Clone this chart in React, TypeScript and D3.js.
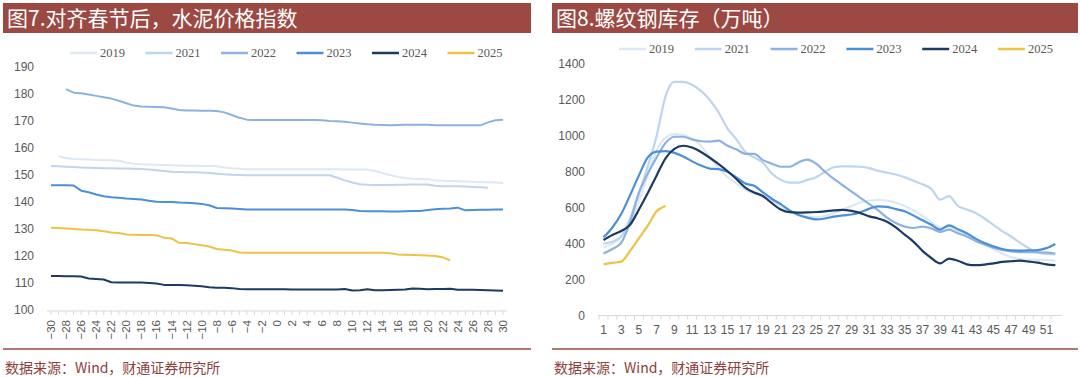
import React from 'react';
import * as d3 from 'd3';

// ---------- Figure 7: cement price index, aligned to Spring Festival ----------
const cementX = [-30,-29,-28,-27,-26,-25,-24,-23,-22,-21,-20,-19,-18,-17,-16,-15,-14,-13,-12,-11,-10,-9,-8,-7,-6,-5,-4,-3,-2,-1,0,1,2,3,4,5,6,7,8,9,10,11,12,13,14,15,16,17,18,19,20,21,22,23,24,25,26,27,28,29,30];
const cementYTicks = [100,110,120,130,140,150,160,170,180,190];

const cement2019 = [null,157.0,156.2,155.9,155.8,155.7,155.6,155.5,155.5,155.3,154.6,154.2,154.0,153.9,153.8,153.7,153.6,153.5,153.4,153.4,153.3,153.3,153.2,152.8,152.5,152.3,152.1,152.1,152.1,152.1,152.1,152.1,152.1,152.1,152.1,152.1,152.1,152.1,152.1,152.0,152.0,152.0,152.0,151.5,150.7,150.0,149.3,148.9,148.6,148.5,148.4,148.1,147.9,147.8,147.7,147.6,147.5,147.4,147.3,147.2,147.0];
const cement2021 = [153.3,153.2,153.1,153.0,152.8,152.7,152.6,152.5,152.5,152.4,152.4,152.3,152.2,152.0,151.8,151.5,151.2,151.1,151.0,151.0,150.9,150.7,150.5,150.3,150.1,150.0,149.9,149.9,149.9,149.9,149.9,149.9,149.9,149.9,149.9,149.9,149.9,149.9,149.0,148.0,147.2,146.6,146.4,146.3,146.3,146.3,146.4,146.4,146.5,146.5,146.5,146.0,145.8,145.8,145.8,145.7,145.6,145.5,145.3,null,null];
const cement2022 = [null,null,181.8,180.5,180.3,179.8,179.3,178.8,178.3,177.5,176.6,175.7,175.4,175.3,175.2,175.1,174.6,174.1,173.9,173.9,173.8,173.8,173.7,173.2,172.2,171.2,170.5,170.4,170.4,170.4,170.4,170.4,170.4,170.4,170.4,170.4,170.3,170.0,169.9,169.7,169.4,169.1,168.8,168.6,168.5,168.4,168.5,168.6,168.6,168.6,168.6,168.4,168.4,168.4,168.4,168.4,168.4,168.4,169.5,170.3,170.5];
const cement2023 = [146.2,146.2,146.2,146.1,144.2,143.6,142.8,142.1,141.8,141.6,141.3,141.1,140.9,140.5,140.1,140.0,140.0,139.8,139.7,139.5,139.3,138.8,137.8,137.7,137.6,137.4,137.2,137.2,137.2,137.2,137.2,137.2,137.2,137.2,137.2,137.2,137.2,137.2,137.2,137.2,137.0,136.7,136.6,136.6,136.6,136.5,136.5,136.6,136.7,136.7,137.0,137.3,137.5,137.6,137.9,136.9,137.0,137.1,137.1,137.2,137.2];
const cement2024 = [112.6,112.6,112.5,112.5,112.4,111.7,111.5,111.3,110.3,110.2,110.2,110.2,110.2,110.0,109.8,109.3,109.3,109.3,109.2,109.0,108.8,108.4,108.2,108.2,108.1,107.8,107.7,107.7,107.7,107.7,107.7,107.7,107.6,107.6,107.6,107.6,107.6,107.6,107.6,107.8,107.2,107.3,107.7,107.3,107.3,107.4,107.5,107.6,108.0,107.9,107.7,107.8,107.8,107.9,107.5,107.5,107.5,107.4,107.3,107.2,107.1];
const cement2025 = [130.5,130.4,130.2,130.0,129.8,129.7,129.5,129.2,128.7,128.5,128.0,127.9,127.8,127.8,127.7,126.8,126.5,124.9,124.8,124.4,124.0,123.5,122.6,122.3,122.0,121.3,121.2,121.2,121.2,121.2,121.2,121.2,121.2,121.2,121.2,121.2,121.2,121.2,121.2,121.2,121.2,121.2,121.2,121.2,121.2,121.0,120.6,120.5,120.4,120.3,120.2,120.0,119.5,118.4,null,null,null,null,null,null,null];

// ---------- Figure 8: rebar inventory (10k tonnes), by week ----------
const rebarWeeks = [1,2,3,4,5,6,7,8,9,10,11,12,13,14,15,16,17,18,19,20,21,22,23,24,25,26,27,28,29,30,31,32,33,34,35,36,37,38,39,40,41,42,43,44,45,46,47,48,49,50,51,52];
const rebarYTicks = [0,200,400,600,800,1000,1200,1400];

const rebar2019 = [380,400,440,520,640,780,920,990,1010,1005,985,945,880,820,770,735,700,680,660,640,610,585,565,550,548,555,570,590,610,630,640,643,640,628,610,585,555,520,490,495,470,450,420,395,370,345,325,315,310,310,310,305];
const rebar2021 = [400,410,440,540,680,830,1000,1220,1300,1300,1285,1250,1200,1130,1040,980,910,880,850,790,755,740,740,755,770,800,825,830,830,828,820,805,795,785,770,750,730,705,645,665,610,590,570,540,505,470,440,405,375,350,343,340];
const rebar2022 = [345,370,405,520,685,790,880,960,995,995,980,970,968,973,945,925,900,900,865,845,828,828,852,868,845,800,760,725,690,655,620,585,545,515,495,487,495,485,465,478,458,440,415,395,378,365,357,353,352,352,350,345];
const rebar2023 = [435,490,565,670,780,880,912,915,905,885,858,835,818,815,800,768,735,722,685,650,620,585,560,545,535,540,550,557,562,575,595,608,605,592,580,556,530,505,478,502,480,458,428,403,385,370,362,361,362,364,375,398];
const rebar2024 = [420,448,470,505,590,682,780,875,928,945,935,910,878,842,803,760,712,685,665,625,590,575,573,574,576,580,585,588,582,570,552,540,522,490,450,410,360,320,290,317,305,285,280,283,290,298,302,305,300,294,285,280];
const rebar2025 = [285,293,300,360,430,500,580,610];

const seriesNames = ['2019','2021','2022','2023','2024','2025'];
const seriesColors = ['#DDE8F4','#BDD5EE','#8CB3E0','#4A8FD8','#1C3A64','#EEC244'];

const cementSeries = [cement2019, cement2021, cement2022, cement2023, cement2024, cement2025];
const rebarSeries = [rebar2019, rebar2021, rebar2022, rebar2023, rebar2024, rebar2025];

const TITLE_BG = '#9C4943';
const RULE = '#9C4943';
const SOURCE = '#8C3F3B';
const AXIS_TEXT = '#595959';
const AXIS_LINE = '#D9D9D9';
const SANS = '"Liberation Sans", Arial, sans-serif';
const SERIF = '"Liberation Serif", "Times New Roman", serif';
const CJK = '"Noto Sans CJK SC", sans-serif';

function Legend({ x0, step, y }: { x0: number; step: number; y: number }) {
  return (
    <g>
      {seriesNames.map((n, i) => (
        <g key={n} transform={`translate(${x0 + i * step},${y})`}>
          <line x1={0} x2={27} y1={0} y2={0} stroke={seriesColors[i]} strokeWidth={2.5} />
          <text x={30} y={0} dy="0.35em" fontSize={12.5} fontFamily={SERIF} fill={AXIS_TEXT}>{n}</text>
        </g>
      ))}
    </g>
  );
}

export default function App() {
  // left chart scales
  const xL = d3.scaleLinear().domain([-30, 30]).range([51, 503]);
  const yL = d3.scaleLinear().domain([100, 190]).range([310, 67]);
  const lineL = d3
    .line<number | null>()
    .defined((d) => d !== null)
    .x((_, i) => xL(cementX[i]))
    .y((d) => yL(d as number));

  // right chart scales
  const xR = d3.scaleLinear().domain([1, 51]).range([603.5, 1046.5]);
  const yR = d3.scaleLinear().domain([0, 1400]).range([315.5, 64]);
  const lineR = d3
    .line<number>()
    .x((_, i) => xR(rebarWeeks[i]))
    .y((d) => yR(d))
    .curve(d3.curveMonotoneX);

  const axisYL = yL(100) + 1;
  const axisYR = yR(0);

  return (
    <svg
      width={1080}
      height={377}
      style={{ position: 'absolute', left: 0, top: 0, display: 'block', background: '#fff' }}
    >
      <rect x={0} y={0} width={1080} height={377} fill="#fff" />

      {/* ---------- LEFT PANEL ---------- */}
      <rect x={3} y={3} width={528} height={30} fill={TITLE_BG} />
      <text x={7} y={26} fontSize={21} fontFamily={CJK} fill="#fff">图7.对齐春节后，水泥价格指数</text>
      <Legend x0={70} step={75.5} y={53} />

      {cementYTicks.map((t) => (
        <text key={t} x={34} y={yL(t)} dy="0.35em" textAnchor="end" fontSize={12} fontFamily={SANS} fill={AXIS_TEXT}>
          {t}
        </text>
      ))}
      <line x1={47} x2={507} y1={axisYL} y2={axisYL} stroke={AXIS_LINE} strokeWidth={1} />
      {cementX.map((v) => (
        <line key={v} x1={xL(v)} x2={xL(v)} y1={axisYL} y2={axisYL + 4} stroke={AXIS_LINE} strokeWidth={1} />
      ))}
      {cementX.filter((v) => v % 2 === 0).map((v) => (
        <text
          key={v}
          transform={`translate(${xL(v)},${axisYL + 9}) rotate(-90)`}
          textAnchor="end"
          dy="0.35em"
          fontSize={11.5}
          fontFamily={SANS}
          fill={AXIS_TEXT}
        >
          {v < 0 ? `−${-v}` : `${v}`}
        </text>
      ))}
      {cementSeries.map((s, i) => (
        <path key={i} d={lineL(s) || ''} fill="none" stroke={seriesColors[i]} strokeWidth={2} strokeLinejoin="round" />
      ))}

      <line x1={3} x2={531} y1={349} y2={349} stroke={RULE} strokeWidth={1.5} />
      <text x={5} y={368} dy="0.35em" fontSize={14} fontFamily={CJK} fill={SOURCE}>数据来源：Wind，财通证券研究所</text>

      {/* ---------- RIGHT PANEL ---------- */}
      <rect x={552} y={3} width={526} height={30} fill={TITLE_BG} />
      <text x={556} y={26} fontSize={21} fontFamily={CJK} fill="#fff">图8.螺纹钢库存（万吨）</text>
      <Legend x0={619} step={75.8} y={49} />

      {rebarYTicks.map((t) => (
        <text key={t} x={585} y={yR(t)} dy="0.35em" textAnchor="end" fontSize={12} fontFamily={SANS} fill={AXIS_TEXT}>
          {t}
        </text>
      ))}
      <line x1={598} x2={1062} y1={axisYR} y2={axisYR} stroke={AXIS_LINE} strokeWidth={1} />
      {rebarWeeks.map((w) => (
        <line key={w} x1={xR(w) - 4.43} x2={xR(w) - 4.43} y1={axisYR} y2={axisYR + 4} stroke={AXIS_LINE} strokeWidth={1} />
      ))}
      {rebarWeeks.filter((w) => w % 2 === 1).map((w) => (
        <text key={w} x={xR(w)} y={axisYR + 14} dy="0.35em" textAnchor="middle" fontSize={12} fontFamily={SANS} fill={AXIS_TEXT}>
          {w}
        </text>
      ))}
      {rebarSeries.map((s, i) => (
        <path key={i} d={lineR(s) || ''} fill="none" stroke={seriesColors[i]} strokeWidth={2.2} strokeLinejoin="round" />
      ))}

      <line x1={552} x2={1078} y1={349} y2={349} stroke={RULE} strokeWidth={1.5} />
      <text x={554} y={368} dy="0.35em" fontSize={14} fontFamily={CJK} fill={SOURCE}>数据来源：Wind，财通证券研究所</text>
    </svg>
  );
}
